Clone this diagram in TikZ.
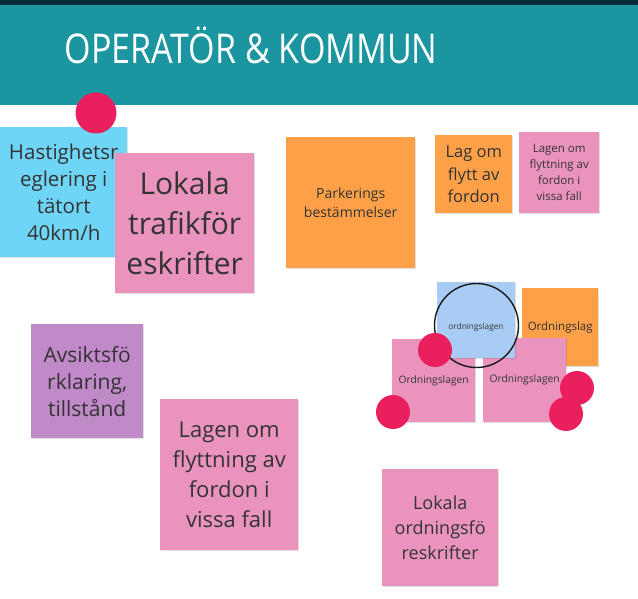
\documentclass[tikz,border=0pt]{standalone}
\usepackage{fontspec}
\setmainfont{Open Sans}
\newfontfamily\titlefont[FakeStretch=0.83]{Open Sans}
\usetikzlibrary{shadows}
\definecolor{topdark}{HTML}{002B3A}
\definecolor{band}{HTML}{1B959F}
\definecolor{nblue}{HTML}{6FD5F7}
\definecolor{npink}{HTML}{EA94BD}
\definecolor{norange}{HTML}{FDA048}
\definecolor{nlblue}{HTML}{A8CCF3}
\definecolor{npurple}{HTML}{C08AC8}
\definecolor{dotred}{HTML}{EA1F5E}
\definecolor{txt}{HTML}{333333}
\tikzset{
  note/.style={anchor=north west, inner sep=0pt, align=center, text=txt,
    drop shadow={shadow xshift=0.8pt, shadow yshift=-1.2pt, fill=black, opacity=0.12}},
  dot/.style={circle, fill=dotred, inner sep=0pt, draw=none},
  fs/.style 2 args={font=\fontsize{#1}{#2}\selectfont}
}
\begin{document}
\begin{tikzpicture}[x=1pt,y=-1pt]
\useasboundingbox (0,0) rectangle (638,599);
\fill[white] (0,0) rectangle (638,599);
\fill[band] (0,5) rectangle (638,105);
\fill[topdark] (0,0) rectangle (638,5);
\node[anchor=base, text=white, font=\titlefont\fontsize{41}{41}\selectfont] (title) at (251,64) {OPERATÖR \& KOMMUN};

% left column
\node[note, fill=nblue, minimum width=127pt, minimum height=130pt, fs={20.5}{27}] (hast) at (0,127)
  {Hastighetsr\\eglering i\\tätort\\40km/h};
\node[note, fill=npink, minimum width=139pt, minimum height=140pt, fs={30}{40}] (lokT) at (115,153)
  {Lokala\\trafikför\\eskrifter};
\node[dot, minimum size=41pt] (d0) at (96,113) {};

\node[note, fill=npurple, minimum width=112pt, minimum height=114pt, fs={21}{27}] (avs) at (31,324)
  {Avsiktsfö\\rklaring,\\tillstånd};
\node[note, fill=npink, minimum width=138pt, minimum height=151pt, fs={22}{30}] (lagenB) at (160,399)
  {Lagen om\\flyttning av\\fordon i\\vissa fall};

% top right
\node[note, fill=norange, minimum width=129pt, minimum height=131pt, fs={14}{19}] (park) at (286,137)
  {Parkerings\\bestämmelser};
\node[note, fill=norange, minimum width=77pt, minimum height=78pt, fs={16.5}{22.5}] (lagF) at (435,135)
  {Lag om\\flytt av\\fordon};
\node[note, fill=npink, minimum width=80pt, minimum height=81pt, fs={11.5}{16}] (lagenS) at (519,132)
  {Lagen om\\flyttning av\\fordon i\\vissa fall};

% cluster
\node[note, fill=norange, minimum width=76pt, minimum height=78pt, fs={11.5}{14}] (olag) at (522,288)
  {Ordningslag};
\node[note, fill=npink, minimum width=83pt, minimum height=83pt, fs={10.3}{13}] (oL) at (392,339)
  {Ordningslagen};
\node[note, fill=npink, minimum width=83pt, minimum height=84pt, fs={10.3}{13}] (oR) at (483,338)
  {Ordningslagen};
\node[note, fill=nlblue, minimum width=78pt, minimum height=76pt] (oB) at (437,282) {};
\node[inner sep=0pt, text=txt, fs={8.3}{10}] (oBt) at (476,327) {ordningslagen};
\node[circle, draw=black!90, line width=1.4pt, minimum size=84pt, inner sep=0pt] (ring) at (476.5,325.5) {};

\node[dot, minimum size=34pt] (d1) at (435,350) {};
\node[dot, minimum size=34pt] (d2) at (393,412) {};
\node[dot, minimum size=34pt] (d3) at (577,388) {};
\node[dot, minimum size=34pt] (d4) at (566,414) {};

% bottom
\node[note, fill=npink, minimum width=116pt, minimum height=117pt, fs={18}{25}] (lokO) at (382,469)
  {Lokala\\ordningsfö\\reskrifter};
\end{tikzpicture}
\end{document}
